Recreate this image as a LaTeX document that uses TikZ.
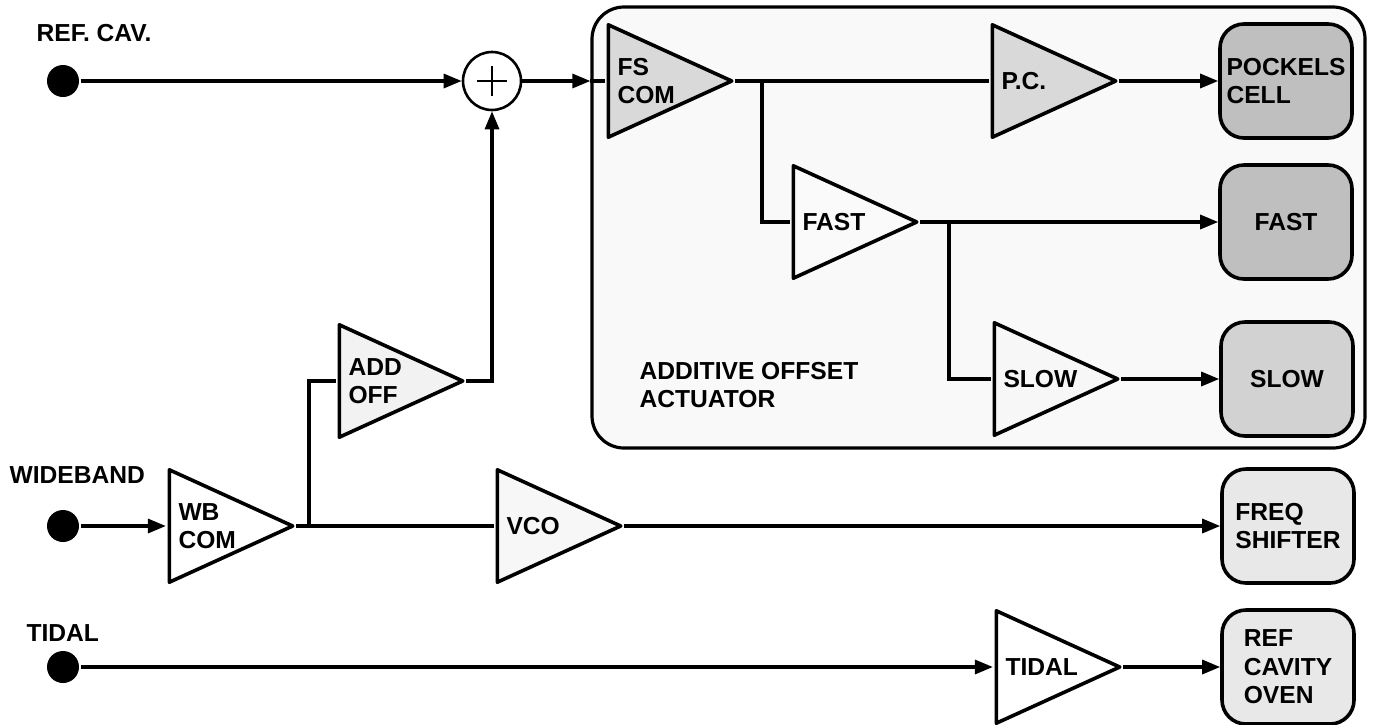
\documentclass[tikz,border=0pt]{standalone}
\usepackage{fontspec}
\setmainfont{Liberation Sans}
\usetikzlibrary{arrows.meta}

\begin{document}
\begin{tikzpicture}[x=0.5pt, y=-0.5pt, line width=1.6pt,
    font=\fontsize{12.3}{14.2}\selectfont\bfseries,
    amp/.style = {minimum width=63.5pt, minimum height=58pt, inner xsep=5.5pt, inner ysep=0pt,
        text width=52.5pt, align=left,
        path picture={\draw[line width=1.8pt, line join=round, fill=#1]
            ([shift={(0.9pt,-0.9pt)}]path picture bounding box.north west)
            -- ([xshift=-0.9pt]path picture bounding box.east)
            -- ([shift={(0.9pt,0.9pt)}]path picture bounding box.south west) -- cycle;}},
    amp/.default = white,
    act/.style = {draw, line width=1.8pt, rounded corners=12pt, minimum width=66pt,
        minimum height=57pt, inner sep=1pt, align=left, fill=#1},
    act/.default = white,
    port/.style = {circle, fill=black, minimum size=16pt, inner sep=0pt},
    sum/.style = {circle, draw, line width=1.3pt, minimum size=29pt, inner sep=0pt,
        path picture={\draw[line width=1.3pt]
            ([xshift=-7.5pt]path picture bounding box.center) -- ([xshift=7.5pt]path picture bounding box.center)
            ([yshift=-7.5pt]path picture bounding box.center) -- ([yshift=7.5pt]path picture bounding box.center);}},
    lbl/.style = {inner sep=0pt, anchor=west, align=left},
    arr/.style = {-{Triangle[length=9pt, width=7pt]}}
]
\useasboundingbox (0,0) rectangle (1374,724);

% actuator frame
\node[draw, line width=1.6pt, rounded corners=16pt, fill=gray!5, minimum width=386.5pt,
    minimum height=220.5pt, inner sep=0pt] (aoa) at (978.5,227.5) {};
\node[lbl] (aoatext) at (638,385) {ADDITIVE OFFSET\\ACTUATOR};

% inputs
\node[lbl] (refcavlbl) at (35,33) {REF. CAV.};
\node[lbl] (widelbl) at (8,475) {WIDEBAND};
\node[lbl] (tidallbl) at (25,633) {TIDAL};
\node[port] (refcav) at (63,81) {};
\node[port] (wide) at (63,526) {};
\node[port] (tidal) at (63,667) {};

% amplifiers
\node[sum] (sum) at (492,81) {};
\node[amp=gray!30] (fs) at (670,81) {FS\\COM};
\node[amp=gray!30] (pc) at (1054,81) {P.C.};
\node[amp=gray!4] (fastamp) at (855,222) {FAST};
\node[amp=gray!6] (slowamp) at (1056,379) {SLOW};
\node[amp=gray!10] (addoff) at (401,381) {ADD\\OFF};
\node[amp] (wb) at (231,526) {WB\\COM};
\node[amp=gray!6] (vco) at (559,526) {VCO};
\node[amp] (tidalamp) at (1058,667) {TIDAL};

% actuators
\node[act=gray!50] (pcell) at (1286,81) {POCKELS\\CELL};
\node[act=gray!50] (fastbox) at (1286,222) {FAST};
\node[act=gray!35] (slowbox) at (1287,379) {SLOW};
\node[act=gray!18] (freq) at (1288,526) {FREQ\\SHIFTER};
\node[act=gray!18] (oven) at (1288,667) {REF\\CAVITY\\OVEN};

% branch points
\coordinate (br1) at (762,81);
\coordinate (br2) at (949,222);
\coordinate (br3) at (309,526);

% signal paths
\draw[arr] (refcav) -- (sum.west);
\draw[arr] (sum.east) -- (aoa.west |- sum);
\draw (aoa.west |- sum) -- (fs.west);
\draw (fs.east) -- (pc.west);
\draw (br1) |- (fastamp.west);
\draw[arr] (pc.east) -- (pcell.west);
\draw[arr] (fastamp.east) -- (fastbox.west);
\draw (br2) |- (slowamp.west);
\draw[arr] (slowamp.east) -- (slowbox.west);
\draw[arr] (wide) -- (wb.west);
\draw (wb.east) -- (vco.west);
\draw (br3) |- (addoff.west);
\draw[arr] (addoff.east) -| (sum.south);
\draw[arr] (vco.east) -- (freq.west);
\draw[arr] (tidal) -- (tidalamp.west);
\draw[arr] (tidalamp.east) -- (oven.west);

\end{tikzpicture}
\end{document}
